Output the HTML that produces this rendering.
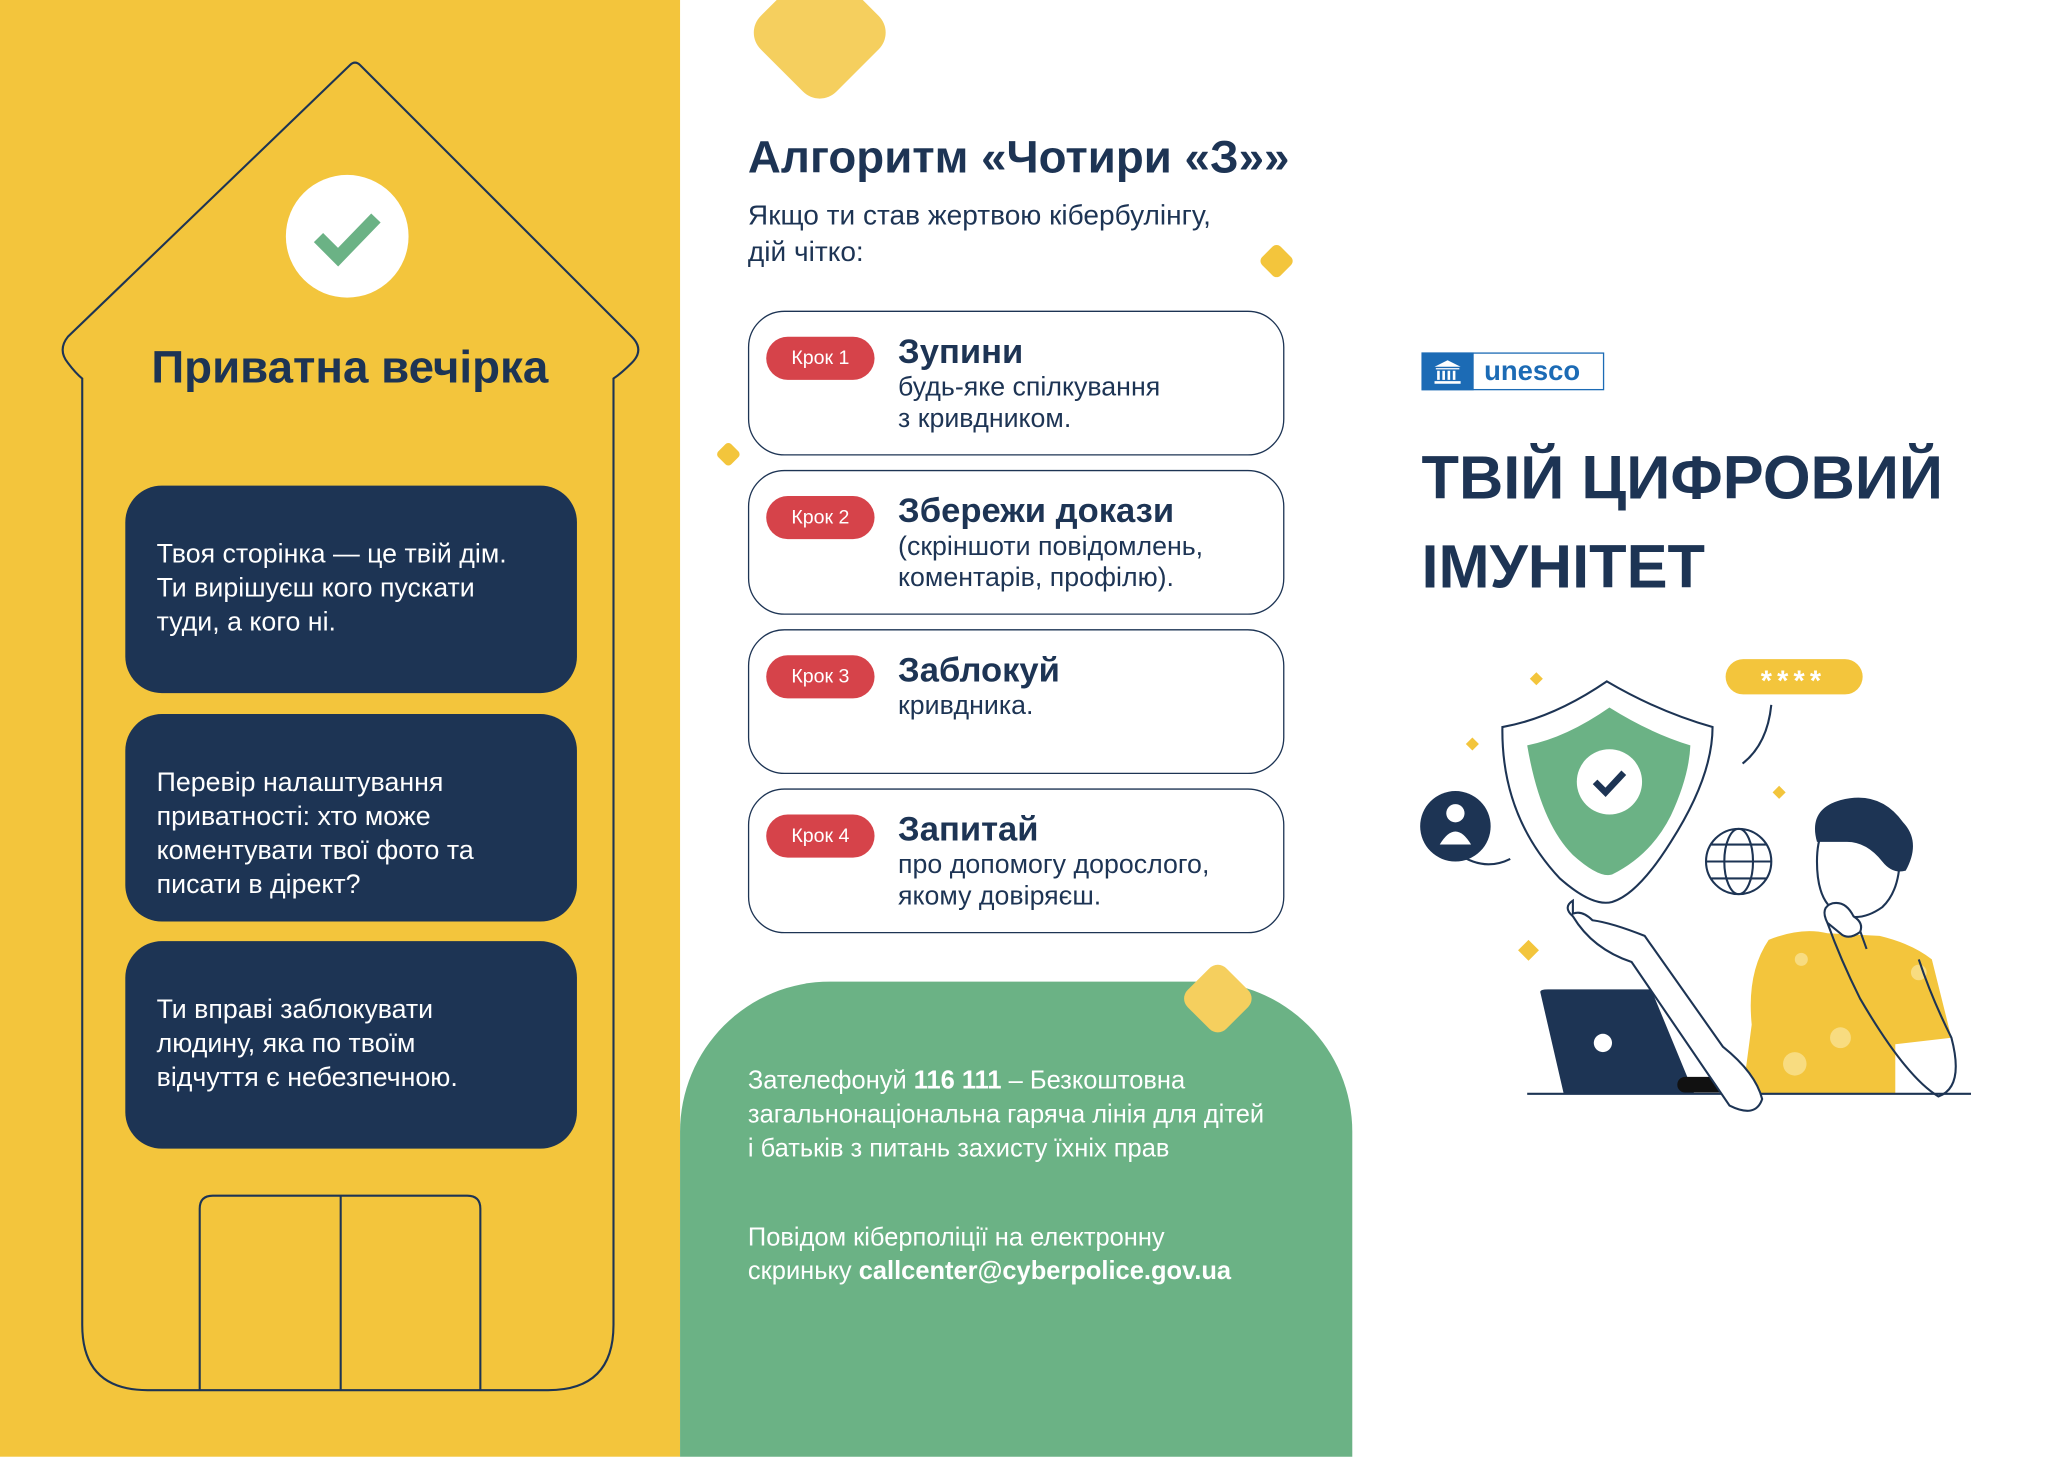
<!DOCTYPE html>
<html><head><meta charset="utf-8"><style>
html,body{margin:0;padding:0;background:#fff;}
body{width:2048px;height:1456px;overflow:hidden;position:relative;font-family:"Liberation Sans","DejaVu Sans",sans-serif;}
#w{position:absolute;left:0;top:0;width:1569px;height:1116px;transform:scale(1.3053);transform-origin:0 0;}
.a{position:absolute;}
.nb{position:absolute;left:96px;width:346px;height:159px;background:#1D3454;border-radius:28px;color:#fff;font-size:20.5px;line-height:26px;box-sizing:border-box;padding:40px 0 0 24px;white-space:nowrap;}
.st{position:absolute;left:573px;width:411px;height:111px;border:1.5px solid #1D3454;border-radius:28px;box-sizing:border-box;background:#fff;}
.pill{position:absolute;left:13px;top:19px;width:83px;height:33px;border-radius:17px;background:#D6434A;color:#fff;font-size:15px;line-height:33px;text-align:center;}
.tt{position:absolute;left:114px;top:15px;font-size:26.5px;font-weight:bold;color:#1D3454;white-space:nowrap;}
.ds{position:absolute;left:114px;top:46px;font-size:20.5px;line-height:24px;color:#1D3454;white-space:nowrap;}
.gt{color:#fff;font-size:19.5px;line-height:26px;white-space:nowrap;}
.dm{position:absolute;background:#F3C53C;border-radius:22%;transform:rotate(45deg);}
</style></head><body><div id="w">
<div class="a" style="left:0;top:0;width:521px;height:1116px;background:#F3C53C"></div>
<svg class="a" style="left:0;top:0" width="521" height="1116">
<path d="M268 50 L52 258 Q44 268 52 278 Q58 286 63 290 L63 1015 Q63 1065 113 1065 L420 1065 Q470 1065 470 1015 L470 290 Q476 286 484 278 Q494 268 484 258 L276 50 Q272 46 268 50 Z" fill="none" stroke="#1D3454" stroke-width="1.6"/>
<circle cx="266" cy="181" r="47" fill="#fff"/>
<path d="M244 182 L259 197 L288 167" fill="none" stroke="#6BB285" stroke-width="10"/>
<path d="M153 1065 L153 926 Q153 916 163 916 L358 916 Q368 916 368 926 L368 1065 M261 916 L261 1065" fill="none" stroke="#1D3454" stroke-width="1.6"/>
</svg>
<div class="a" style="left:0;width:536px;top:262px;text-align:center;font-size:35px;font-weight:bold;color:#1D3454">Приватна вечірка</div>
<div class="nb" style="top:372px">Твоя сторінка — це твій дім.<br>Ти вирішуєш кого пускати<br>туди, а кого ні.</div>
<div class="nb" style="top:547px">Перевір налаштування<br>приватності: хто може<br>коментувати твої фото та<br>писати в дірект?</div>
<div class="nb" style="top:721px">Ти вправі заблокувати<br>людину, яка по твоїм<br>відчуття є небезпечною.</div>

<div class="dm" style="left:587px;top:-16px;width:82px;height:82px;background:#F5CF5E"></div>
<div class="dm" style="left:968px;top:190px;width:20px;height:20px"></div>
<div class="dm" style="left:551px;top:341px;width:14px;height:14px"></div>
<div class="a" style="left:573px;top:101px;font-size:35px;font-weight:bold;color:#1D3454;white-space:nowrap">Алгоритм «Чотири «З»»</div>
<div class="a" style="left:573px;top:151px;font-size:21.5px;line-height:28px;color:#1D3454;white-space:nowrap">Якщо ти став жертвою кібербулінгу,<br>дій чітко:</div>
<div class="st" style="top:238px"><div class="pill">Крок 1</div><div class="tt">Зупини</div><div class="ds">будь-яке спілкування<br>з кривдником.</div></div>
<div class="st" style="top:360px"><div class="pill">Крок 2</div><div class="tt">Збережи докази</div><div class="ds">(скріншоти повідомлень,<br>коментарів, профілю).</div></div>
<div class="st" style="top:482px"><div class="pill">Крок 3</div><div class="tt">Заблокуй</div><div class="ds">кривдника.</div></div>
<div class="st" style="top:604px"><div class="pill">Крок 4</div><div class="tt">Запитай</div><div class="ds">про допомогу дорослого,<br>якому довіряєш.</div></div>

<div class="a" style="left:521px;top:752px;width:515px;height:364px;background:#6BB285;border-radius:115px 115px 0 0"></div>
<div class="dm" style="left:912px;top:744px;width:42px;height:42px;background:#F5CF5E"></div>
<div class="a gt" style="left:573px;top:815px">Зателефонуй <b>116 111</b> – Безкоштовна<br>загальнонаціональна гаряча лінія для дітей<br>і батьків з питань захисту їхніх прав</div>
<div class="a gt" style="left:573px;top:935px">Повідом кіберполіції на електронну<br>скриньку <b>callcenter@cyberpolice.gov.ua</b></div>

<div class="a" style="left:1089px;top:270px;width:140px;height:29px;border:1px solid #1C6BB5;box-sizing:border-box;background:#fff"></div>
<div class="a" style="left:1089px;top:270px;width:40px;height:29px;background:#1C6BB5"></div>
<svg class="a" style="left:1096px;top:274px" width="26" height="22"><path d="M3 7 L13 2 L23 7 Z M4 8 H22 V9 H4Z M5 10h2v7H5z M9 10h2v7H9z M13 10h2v7h-2z M17 10h2v7h-2z M3 18 H23 V20 H3Z" fill="#fff"/></svg>
<div class="a" style="left:1137px;top:273px;font-size:21px;font-weight:bold;color:#1C6BB5">unesco</div>
<div class="a" style="left:1089px;top:332px;font-size:47px;line-height:68px;font-weight:bold;color:#1D3454;white-space:nowrap">ТВІЙ ЦИФРОВИЙ<br>ІМУНІТЕТ</div>

<svg class="a" style="left:1080px;top:495px" width="440" height="360" fill="none" stroke="#1D3454" stroke-width="1.6">
<rect x="242" y="10" width="105" height="27" rx="13.5" fill="#F3C53C" stroke="none"/>
<text x="294" y="34" font-size="22" fill="#fff" stroke="none" text-anchor="middle" font-weight="bold" letter-spacing="4">****</text>
<path d="M97 20 l5 5 l-5 5 l-5 -5z M48 70 l5 5 l-5 5 l-5 -5z M283 107 l5 5 l-5 5 l-5 -5z M91 225 l8 8 l-8 8 l-8 -8z" fill="#F3C53C" stroke="none"/>
<circle cx="35" cy="138" r="27" fill="#1D3454" stroke="none"/>
<circle cx="35" cy="128" r="7" fill="#fff" stroke="none"/>
<path d="M23 152 q12 -20 24 0z" fill="#fff" stroke="none"/>
<path d="M37 159 q20 14 40 4 M277 45 q-3 30 -22 45"/>
<path d="M151 27 Q110 55 71 62 Q70 130 115 178 Q140 200 155 196 Q175 190 200 150 Q232 100 232 62 Q190 50 151 27Z" fill="#fff"/>
<path d="M153 47 Q120 70 90 76 Q100 135 125 160 Q145 178 155 175 Q185 160 200 130 Q214 100 215 76 Q185 67 153 47Z" fill="#6BB285" stroke="none"/>
<circle cx="153" cy="104" r="25" fill="#fff" stroke="none"/>
<path d="M142 104 l8 8 l14 -15" stroke-width="5"/>
<circle cx="252" cy="165" r="25"/>
<ellipse cx="252" cy="165" rx="11" ry="25"/>
<path d="M227 165 h50 M231 152 h42 M231 178 h42"/>
<path d="M255 343 L262 290 Q258 250 275 225 Q300 215 320 220 L360 222 Q385 228 400 240 L415 300 L372 305 L372 343Z" fill="#F3C53C" stroke="none"/>
<circle cx="300" cy="240" r="5" fill="#F8DC80" stroke="none"/><circle cx="330" cy="300" r="8" fill="#F8DC80" stroke="none"/><circle cx="390" cy="250" r="6" fill="#F8DC80" stroke="none"/><circle cx="295" cy="320" r="9" fill="#F8DC80" stroke="none"/>
<path d="M100 265 Q100 263 106 263 L185 263 L218 343 L118 343Z" fill="#1D3454" stroke="none"/>
<circle cx="148" cy="304" r="7" fill="#fff" stroke="none"/>
<rect x="205" y="330" width="55" height="12" rx="6" fill="#111" stroke="none"/>
<path d="M90 343 H430"/>
<path d="M125 195 q-8 5 0 12 q15 25 45 35 l75 110 q20 10 25 -5 q-5 -20 -30 -40 l-60 -85 q-25 -10 -40 -12 q-8 -8 -15 -5Z" fill="#fff"/>
<path d="M312 165 Q312 135 330 130 Q360 128 375 150 Q378 185 362 200 Q345 212 330 205 Q312 198 312 165Z" fill="#fff"/>
<path d="M312 150 Q305 125 330 118 Q360 110 378 135 Q392 150 380 172 Q370 175 362 165 Q350 150 335 150 Q322 150 312 150Z" fill="#1D3454" stroke="none"/>
<path d="M345 218 L350 232 M320 212 Q330 240 345 270 Q380 330 405 345 Q425 338 415 300 Q400 270 390 240"/>
<path d="M320 212 q-6 -12 4 -15 q10 -2 16 10 q8 5 5 12 q-8 6 -14 2 z" fill="#fff"/>
</svg>
</div></body></html>
